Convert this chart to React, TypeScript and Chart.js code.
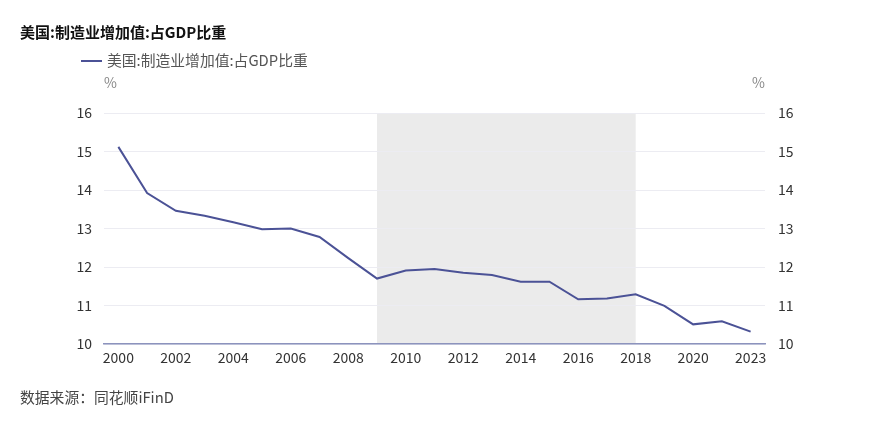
import React, { useEffect, useRef } from "react";
import { Chart, registerables } from "chart.js";
Chart.register(...registerables);

const titleText = "美国:制造业增加值:占GDP比重";
const seriesName = "美国:制造业增加值:占GDP比重";
const sourceText = "数据来源：同花顺iFinD";
const unitLabel = "%";
const years = [
  "2000", "2001", "2002", "2003", "2004", "2005", "2006", "2007", "2008", "2009",
  "2010", "2011", "2012", "2013", "2014", "2015", "2016", "2017", "2018", "2019",
  "2020", "2021", "2023",
];
const share = [
  15.12, 13.92, 13.46, 13.33, 13.16, 12.98, 13.0, 12.78, 12.23, 11.7,
  11.91, 11.95, 11.85, 11.79, 11.62, 11.62, 11.16, 11.18, 11.29, 10.99,
  10.51, 10.59, 10.32,
];
const yMin = 10;
const yMax = 16;
const shadeFrom = "2009";
const shadeTo = "2018";

const FONT = "'Noto Sans CJK SC', 'Noto Sans', sans-serif";
const LINE_COLOR = "#4b5296";

const overlayPlugin = {
  id: "overlay",
  beforeDraw(chart: any) {
    const { ctx, chartArea, scales } = chart;
    const x = scales.x;
    const x0 = x.getPixelForValue(years.indexOf(shadeFrom));
    const x1 = x.getPixelForValue(years.indexOf(shadeTo));
    ctx.save();
    ctx.fillStyle = "#ebebeb";
    ctx.fillRect(x0, chartArea.top, x1 - x0, chartArea.bottom - chartArea.top);
    ctx.restore();
  },
  afterDraw(chart: any) {
    const { ctx, chartArea } = chart;
    ctx.save();
    ctx.textBaseline = "middle";
    // title
    ctx.fillStyle = "#111";
    ctx.font = `bold 15px ${FONT}`;
    ctx.textAlign = "left";
    ctx.fillText(titleText, 20, 32);
    // legend
    ctx.strokeStyle = LINE_COLOR;
    ctx.lineWidth = 2;
    ctx.beginPath();
    ctx.moveTo(81, 61);
    ctx.lineTo(102, 61);
    ctx.stroke();
    ctx.fillStyle = "#555";
    ctx.font = `14.8px ${FONT}`;
    ctx.fillText(seriesName, 107, 60);
    // units
    ctx.fillStyle = "#888";
    ctx.font = `14px ${FONT}`;
    ctx.fillText(unitLabel, chartArea.left, 83);
    ctx.textAlign = "right";
    ctx.fillText(unitLabel, chartArea.right, 83);
    // source
    ctx.textAlign = "left";
    ctx.fillStyle = "#444";
    ctx.font = `14.8px ${FONT}`;
    ctx.fillText(sourceText, 20, 397);
    ctx.restore();
  },
};

export default function App() {
  const ref = useRef<HTMLCanvasElement | null>(null);
  useEffect(() => {
    if (!ref.current) return;
    const chart = new Chart(ref.current, {
      type: "line",
      data: {
        labels: years,
        datasets: [
          {
            label: seriesName,
            data: share,
            borderColor: LINE_COLOR,
            backgroundColor: LINE_COLOR,
            borderWidth: 2,
            pointRadius: 0,
            tension: 0,
            yAxisID: "y",
          },
        ],
      },
      options: {
        animation: false,
        responsive: false,
        maintainAspectRatio: false,
        layout: { padding: { top: 113, bottom: 0, left: 0, right: 0 } },
        plugins: {
          legend: { display: false },
          title: { display: false },
          tooltip: { enabled: false },
        },
        scales: {
          x: {
            type: "category",
            offset: true,
            grid: { display: false, drawTicks: false },
            border: { display: true, color: "#8c93bd", width: 1.5 },
            ticks: {
              autoSkip: false,
              maxRotation: 0,
              padding: 5,
              color: "#333",
              font: { family: FONT, size: 14 },
              callback: (_v: any, i: number) => (i % 2 === 0 ? years[i] : ""),
            },
            afterFit: (s: any) => {
              s.height = 83;
            },
          },
          y: {
            position: "left",
            min: yMin,
            max: yMax,
            grid: { color: "#ececf2", drawTicks: false, lineWidth: 1 },
            border: { display: false },
            ticks: {
              stepSize: 1,
              padding: 12,
              color: "#333",
              font: { family: FONT, size: 14 },
            },
            afterFit: (s: any) => {
              s.width = 104;
            },
          },
          y2: {
            position: "right",
            min: yMin,
            max: yMax,
            grid: { display: false, drawTicks: false },
            border: { display: false },
            ticks: {
              stepSize: 1,
              padding: 13,
              color: "#333",
              font: { family: FONT, size: 14 },
            },
            afterFit: (s: any) => {
              s.width = 104;
            },
          },
        },
      },
      plugins: [overlayPlugin],
    } as any);
    return () => chart.destroy();
  }, []);
  return (
    <div style={{ position: "absolute", left: 0, top: 0, width: 869, height: 427, background: "#fff" }}>
      <canvas ref={ref} width={869} height={427} style={{ width: 869, height: 427 }} />
    </div>
  );
}
